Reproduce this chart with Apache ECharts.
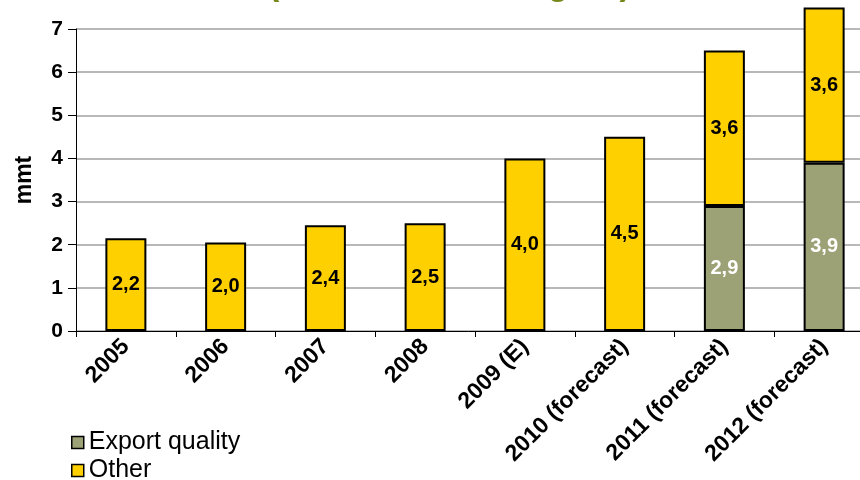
<!DOCTYPE html>
<html>
<head>
<meta charset="utf-8">
<script src="https://cdn.jsdelivr.net/npm/echarts@6/dist/echarts.min.js"></script>
<style>
  html, body { margin: 0; padding: 0; background: #fff; }
  #chart { width: 860px; height: 480px; }
</style>
</head>
<body>
<div id="chart"></div>
<script>
  // chart data
  const categories = ['2005', '2006', '2007', '2008', '2009 (E)', '2010 (forecast)', '2011 (forecast)', '2012 (forecast)']
  const exportQuality = [null, null, null, null, null, null, 2.9, 3.9]
  const other = [2.15, 2.05, 2.45, 2.5, 4.0, 4.5, 3.6, 3.6]
  const exportLabels = ['', '', '', '', '', '', '2,9', '3,9']
  const otherLabels = ['2,2', '2,0', '2,4', '2,5', '4,0', '4,5', '3,6', '3,6']
  const yTicks = [0, 1, 2, 3, 4, 5, 6, 7]

  const font = 'Arial, "Liberation Sans", sans-serif'
  const chart = echarts.init(document.getElementById('chart'))

  chart.setOption({
    backgroundColor: '#fff',
    animation: false,
    title: {
      // only the bottom of the title is inside the picture
      text: '(mmt, selected region)',
      left: 263,
      top: -36,
      textStyle: {
        color: '#76881a',
        fontSize: 34,
        fontWeight: 'bold',
        fontFamily: font,
      },
    },
    legend: {
      orient: 'vertical',
      left: 66,
      top: 425,
      height: 120,
      itemWidth: 12,
      itemHeight: 12,
      itemGap: 3,
      icon: 'rect',
      data: ['Export quality', 'Other'],
      textStyle: {
        color: '#000',
        fontSize: 25,
        fontFamily: font,
      },
      itemStyle: {
        borderColor: '#000',
        borderWidth: 1.5,
      },
    },
    grid: {
      left: 76,
      right: -14,
      top: 29,
      bottom: 149,
      outerBoundsMode: 'none',
    },
    xAxis: {
      type: 'category',
      data: categories,
      axisLine: { lineStyle: { color: '#000', width: 1 } },
      axisTick: { show: true, length: 6, lineStyle: { color: '#000' } },
      axisLabel: {
        rotate: 45,
        margin: 12,
        interval: 0,
        color: '#000',
        fontSize: 23,
        fontWeight: 'bold',
        fontFamily: font,
      },
    },
    yAxis: {
      type: 'value',
      min: yTicks[0],
      max: yTicks[yTicks.length - 1],
      interval: 1,
      name: 'mmt',
      nameLocation: 'middle',
      nameGap: 40,
      nameTextStyle: {
        color: '#000',
        fontSize: 23,
        fontWeight: 'bold',
        fontFamily: font,
      },
      axisLine: { show: true, lineStyle: { color: '#000', width: 1 } },
      axisTick: { show: true, length: 8, lineStyle: { color: '#000' } },
      axisLabel: {
        margin: 13,
        color: '#000',
        fontSize: 21,
        fontWeight: 'bold',
        fontFamily: font,
      },
      splitLine: { lineStyle: { color: '#b8b8b8', width: 2 } },
    },
    series: [
      {
        name: 'Export quality',
        type: 'bar',
        stack: 'total',
        barWidth: 41,
        clip: false,
        data: exportQuality,
        itemStyle: { color: '#9da276', borderColor: '#000', borderWidth: 2 },
        label: {
          show: true,
          position: 'inside',
          color: '#fff',
          fontSize: 20,
          fontWeight: 'bold',
          fontFamily: font,
          formatter: (p) => exportLabels[p.dataIndex],
        },
      },
      {
        name: 'Other',
        type: 'bar',
        stack: 'total',
        barWidth: 41,
        clip: false,
        data: other,
        itemStyle: { color: '#ffd000', borderColor: '#000', borderWidth: 2 },
        label: {
          show: true,
          position: 'inside',
          color: '#000',
          fontSize: 20,
          fontWeight: 'bold',
          fontFamily: font,
          formatter: (p) => otherLabels[p.dataIndex],
        },
      },
    ],
  })
</script>
</body>
</html>
